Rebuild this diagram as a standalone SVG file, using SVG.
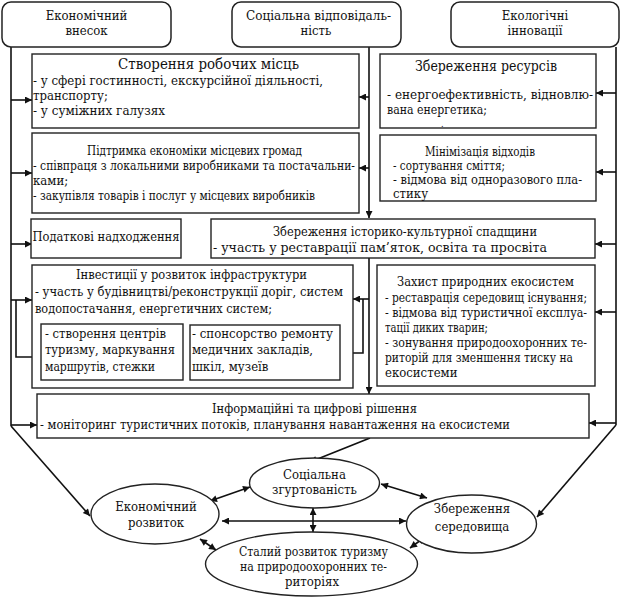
<svg xmlns="http://www.w3.org/2000/svg" width="625" height="600" viewBox="0 0 625 600">
<defs>
<style>
text{font-family:"DejaVu Serif Condensed","DejaVu Serif",serif;font-stretch:condensed;font-size:13px;fill:#111}
.c{text-anchor:middle}
.big{font-size:14.5px}
.box{fill:#fff;stroke:#222;stroke-width:1.4}
.hdr{fill:#fff;stroke:#222;stroke-width:1.5}
.ln{fill:none;stroke:#111;stroke-width:1.6}
.ar{fill:none;stroke:#111;stroke-width:1.6;marker-end:url(#ah)}
.da{fill:none;stroke:#111;stroke-width:1.6;marker-start:url(#ah);marker-end:url(#ah)}
</style>
<marker id="ah" viewBox="0 0 10 10" refX="10" refY="5" markerWidth="9" markerHeight="7" orient="auto-start-reverse" markerUnits="userSpaceOnUse"><path d="M0,0 L10,5 L0,10 z" fill="#111"/></marker>
</defs>
<rect width="625" height="600" fill="#fff"/>

<g id="connectors">
<path class="ln" d="M11,47 V426"/>
<path class="ar" d="M11,426 L90,516"/>
<path class="ar" d="M11,100 H32"/>
<path class="ar" d="M11,173 H32"/>
<path class="ar" d="M11,244 H32"/>
<path class="ar" d="M11,300 H32"/>
<path class="ar" d="M16,300 V357 H41"/>
<path class="ar" d="M11,425 H37"/>
<path class="ar" d="M369,47 V218"/>
<path class="ar" d="M369,258 V394"/>
<path class="ar" d="M370,438 L310,462"/>
<path class="ar" d="M369,97 H359"/>
<path class="ar" d="M369,168 H359"/>
<path class="ar" d="M369,299 H353"/>
<path class="ar" d="M363,299 V353 H340"/>
<path class="ln" d="M616,47 V425"/>
<path class="ar" d="M616,425 L537,517"/>
<path class="ar" d="M616,93 H596"/>
<path class="ar" d="M616,172 H596"/>
<path class="ar" d="M616,244 H595"/>
<path class="ar" d="M616,312 H595"/>
<path class="ar" d="M616,423 H589"/>
<path class="da" d="M210,501 L250,487"/>
<path class="da" d="M200,539 L216,550"/>
<path class="da" d="M222,521 H406"/>
<path class="da" d="M313,508 V532"/>
<path class="da" d="M381,484 L427,498"/>
<path class="da" d="M410,548 L425,537"/>
</g>

<g id="h1"><rect class="hdr" x="2" y="2" width="169" height="45" rx="9"/><text class="c" x="86.5" y="20">Економічний</text><text class="c" x="86.5" y="35">внесок</text></g>
<g id="h2"><rect class="hdr" x="232" y="2" width="169" height="45" rx="9"/><text x="246" y="20" textLength="145" lengthAdjust="spacingAndGlyphs">Соціальна відповідаль-</text><text class="c" x="316" y="35">ність</text></g>
<g id="h3"><rect class="hdr" x="451" y="2" width="168" height="45" rx="9"/><text class="c" x="535" y="20">Екологічні</text><text class="c" x="535" y="35">інновації</text></g>

<g id="b1"><rect class="box" x="32" y="54" width="327" height="74"/>
<text x="118" y="69" textLength="181" lengthAdjust="spacingAndGlyphs" style="font-size:14px">Створення робочих місць</text>
<text x="33" y="85" textLength="290" lengthAdjust="spacingAndGlyphs">- у сфері гостинності, екскурсійної діяльності,</text>
<text x="33" y="100">транспорту;</text>
<text x="33" y="115" textLength="132" lengthAdjust="spacingAndGlyphs">- у суміжних галузях</text></g>

<g id="b2"><rect class="box" x="380" y="54" width="216" height="74"/>
<text x="415" y="71" textLength="142" lengthAdjust="spacingAndGlyphs" style="font-size:14px">Збереження ресурсів</text>
<text x="387" y="99" textLength="206" lengthAdjust="spacingAndGlyphs">- енергоефективність, відновлю-</text>
<text x="387" y="114" textLength="100" lengthAdjust="spacingAndGlyphs">вана енергетика;</text>
<text x="441" y="127" style="font-size:9px">.</text></g>

<g id="b3"><rect class="box" x="32" y="133" width="327" height="80"/>
<text x="87" y="155" textLength="215" lengthAdjust="spacingAndGlyphs">Підтримка економіки місцевих громад</text>
<text x="33" y="170" textLength="322" lengthAdjust="spacingAndGlyphs">- співпраця з локальними виробниками та постачальни-</text>
<text x="33" y="185">ками;</text>
<text x="33" y="200" textLength="282" lengthAdjust="spacingAndGlyphs">- закупівля товарів і послуг у місцевих виробників</text></g>

<g id="b4"><rect class="box" x="380" y="135" width="216" height="66"/>
<text x="425" y="156" textLength="110" lengthAdjust="spacingAndGlyphs">Мінімізація відходів</text>
<text x="393" y="170" textLength="112" lengthAdjust="spacingAndGlyphs">- сортування сміття;</text>
<text x="393" y="184" textLength="189" lengthAdjust="spacingAndGlyphs">- відмова від одноразового пла-</text>
<text x="393" y="198">стику</text></g>

<g id="b5"><rect class="box" x="31" y="219" width="150" height="39"/>
<text x="32.5" y="241" textLength="147" lengthAdjust="spacingAndGlyphs">Податкові надходження</text></g>

<g id="b6"><rect class="box" x="211" y="219" width="384" height="39"/>
<text x="273" y="236" textLength="264" lengthAdjust="spacingAndGlyphs">Збереження історико-культурної спадщини</text>
<text x="213" y="252" textLength="334" lengthAdjust="spacingAndGlyphs" style="font-size:13.5px">- участь у реставрації пам’яток, освіта та просвіта</text></g>

<g id="b7"><rect class="box" x="32" y="265" width="321" height="123"/>
<text x="76" y="279" textLength="231" lengthAdjust="spacingAndGlyphs">Інвестиції у розвиток інфраструктури</text>
<text x="35" y="296" textLength="308" lengthAdjust="spacingAndGlyphs">- участь у будівництві/реконструкції доріг, систем</text>
<text x="35" y="313" textLength="237" lengthAdjust="spacingAndGlyphs">водопостачання, енергетичних систем;</text></g>

<g id="b7a"><rect class="box" x="41" y="324" width="142" height="56"/>
<text x="45" y="338" textLength="121" lengthAdjust="spacingAndGlyphs">- створення центрів</text>
<text x="45" y="354" textLength="130" lengthAdjust="spacingAndGlyphs">туризму, маркування</text>
<text x="45" y="371" textLength="110" lengthAdjust="spacingAndGlyphs">маршрутів, стежки</text></g>

<g id="b7b"><rect class="box" x="190" y="325" width="150" height="55"/>
<text x="192" y="338" textLength="141" lengthAdjust="spacingAndGlyphs">- спонсорство ремонту</text>
<text x="192" y="354" textLength="121" lengthAdjust="spacingAndGlyphs">медичних закладів,</text>
<text x="192" y="371">шкіл, музеїв</text></g>

<g id="b8"><rect class="box" x="377" y="265" width="218" height="121"/>
<text x="397" y="286" textLength="177" lengthAdjust="spacingAndGlyphs">Захист природних екосистем</text>
<text x="385" y="302" textLength="202" lengthAdjust="spacingAndGlyphs">- реставрація середовищ існування;</text>
<text x="385" y="317" textLength="202" lengthAdjust="spacingAndGlyphs">- відмова від туристичної експлуа-</text>
<text x="385" y="332" textLength="103" lengthAdjust="spacingAndGlyphs">тації диких тварин;</text>
<text x="385" y="347" textLength="202" lengthAdjust="spacingAndGlyphs">- зонування природоохоронних те-</text>
<text x="385" y="362" textLength="188" lengthAdjust="spacingAndGlyphs">риторій для зменшення тиску на</text>
<text x="385" y="377">екосистеми</text></g>

<g id="b9"><rect class="box" x="37" y="394" width="552" height="44"/>
<text x="212" y="413" textLength="205" lengthAdjust="spacingAndGlyphs">Інформаційні та цифрові рішення</text>
<text x="40" y="429" textLength="470" lengthAdjust="spacingAndGlyphs">- моніторинг туристичних потоків, планування навантаження на екосистеми</text></g>

<g id="e1"><ellipse class="box" cx="314.5" cy="483" rx="65" ry="25"/>
<text class="c" x="314.5" y="479">Соціальна</text>
<text class="c" x="314.5" y="494">згуртованість</text></g>

<g id="e2"><ellipse class="box" cx="155" cy="514" rx="64" ry="30"/>
<text class="c" x="156" y="511">Економічний</text>
<text class="c" x="156" y="527">розвиток</text></g>

<g id="e3"><ellipse class="box" cx="471.5" cy="524" rx="65" ry="29"/>
<text class="c" x="472" y="513">Збереження</text>
<text class="c" x="472" y="531">середовища</text></g>

<g id="e4"><ellipse class="box" cx="311.5" cy="564" rx="106" ry="32"/>
<text x="239" y="556" textLength="149" lengthAdjust="spacingAndGlyphs">Сталий розвиток туризму</text>
<text x="240" y="571" textLength="147" lengthAdjust="spacingAndGlyphs">на природоохоронних те-</text>
<text class="c" x="312" y="586">риторіях</text></g>
</svg>
